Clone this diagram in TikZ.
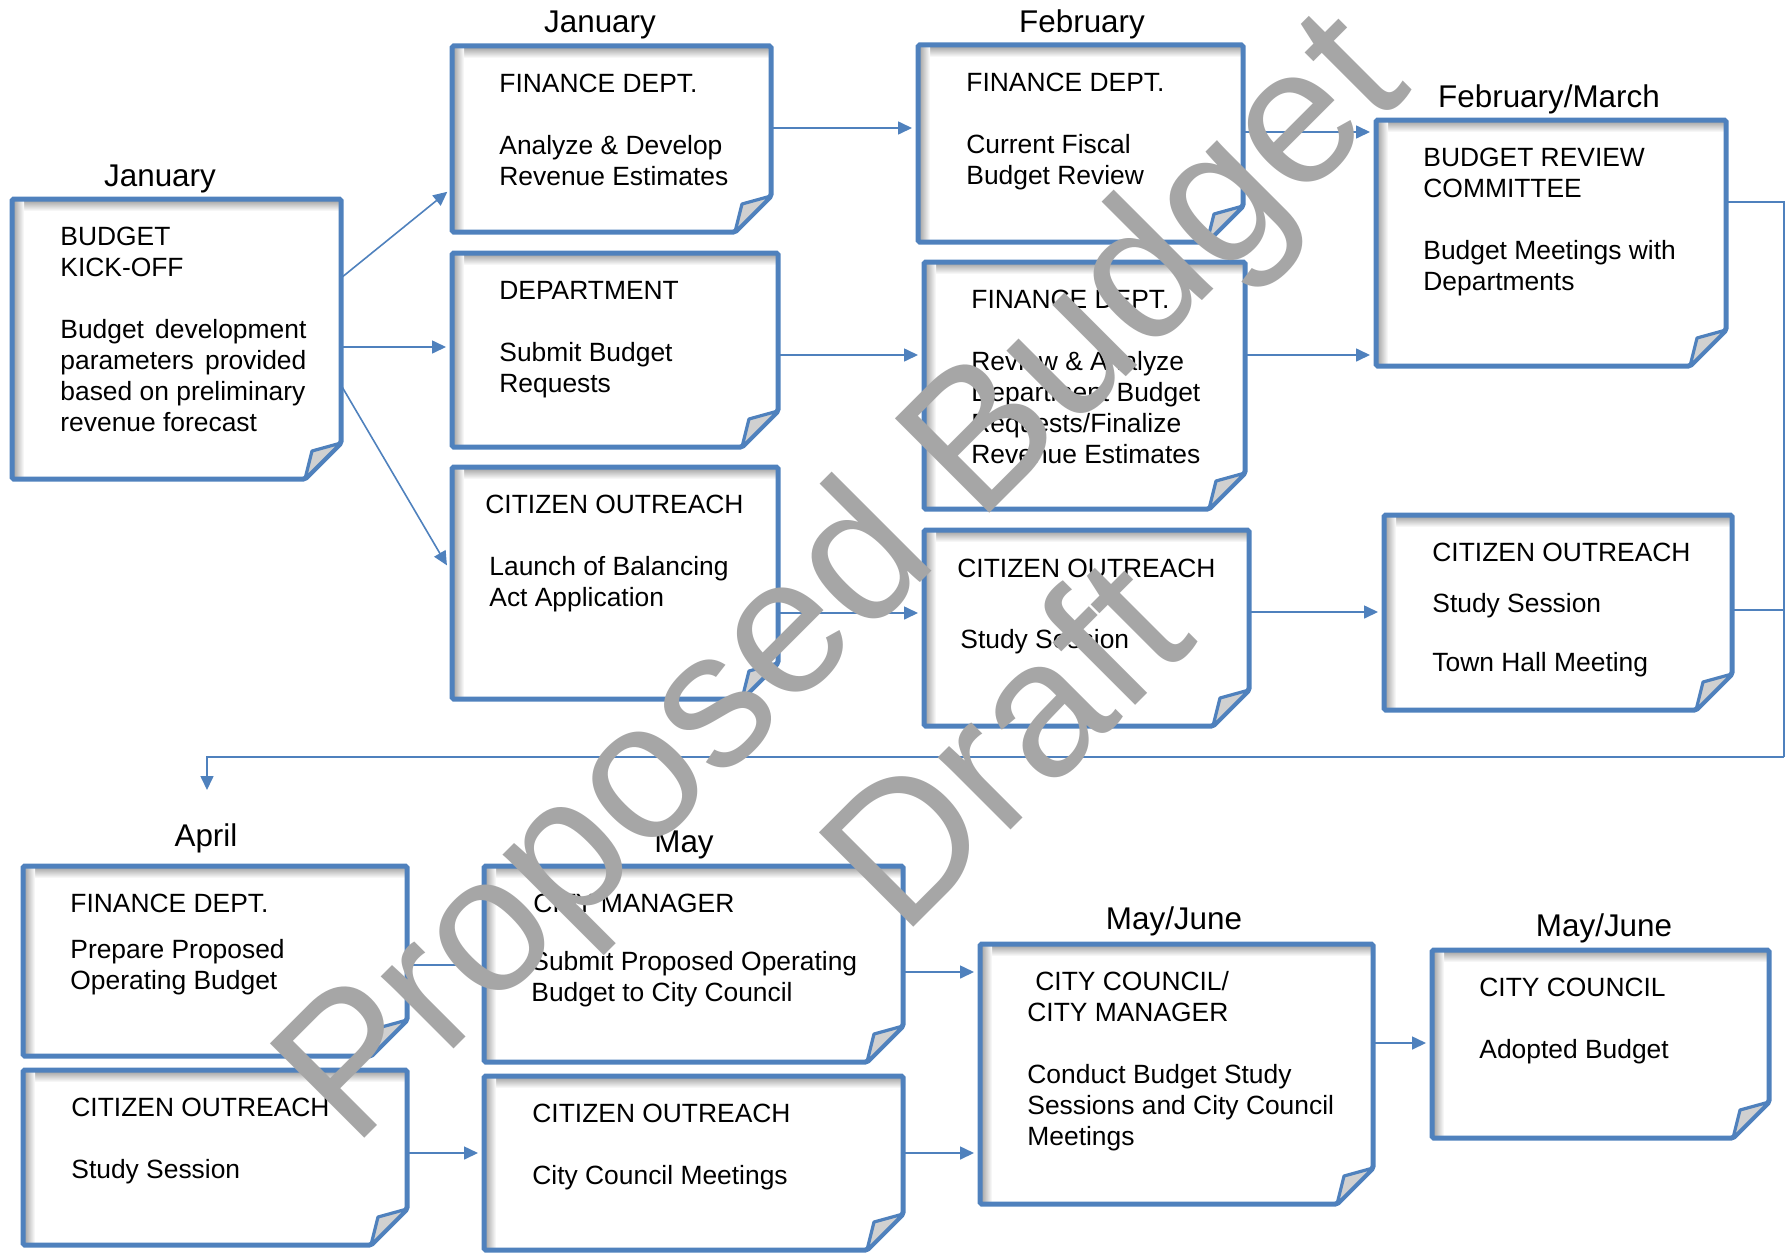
\documentclass[tikz,border=0pt]{standalone}
\usepackage{fontspec}
\setmainfont{Liberation Sans}
\usetikzlibrary{arrows.meta,fit,calc}
\definecolor{boxblue}{RGB}{79,129,189}
\definecolor{foldgray}{RGB}{208,208,208}
\definecolor{wmgray}{RGB}{166,166,166}
\newcommand*{\boxfont}{\fontsize{13.2}{15.5}\selectfont}
\newcommand*{\monthfont}{\fontsize{15.7}{19}\selectfont}
\newcommand*{\markfont}{\fontsize{97}{100}\selectfont}
\tikzset{%
  docslot/.style={inner sep=0pt, outer sep=0pt},% invisible node that names a box
  docframe/.style={draw=boxblue, line width=2.5pt, rounded corners=0.8pt},% box outline
  docfold/.style={draw=boxblue, line width=1.6pt, fill=foldgray, line join=round},% folded corner
  boxtext/.style={anchor=north west, inner sep=0pt, align=left, font=\boxfont},
  monthlabel/.style={anchor=base, inner sep=0pt, font=\monthfont},
  flow/.style={draw=boxblue, line width=0.8pt, shorten >=3pt,
    -{Triangle[length=7pt,width=6.5pt]}},% arrow between boxes
  link/.style={draw=boxblue, line width=0.8pt},% plain line
  watermark/.style={text=wmgray, font=\markfont, rotate=45, inner sep=0pt}
}
% box with inner shadow and folded lower right corner
\newcommand*{\docbox}[5]{%
  \node[docslot, fit={(#2,#3) (#4,#5)}] (#1) {};
  \fill[white] (#1.north west) -- (#1.north east) -- ([yshift=18pt]#1.south east)
    -- ([xshift=-18pt]#1.south east) -- (#1.south west) -- cycle;
  \shade[top color=black!40, bottom color=white] (#1.north west) rectangle ([yshift=-6pt]#1.north east);
  \shade[left color=black!40, right color=white] (#1.north west) rectangle ([xshift=6pt]#1.south west);
  \draw[docframe] (#1.north west) -- (#1.north east) -- ([yshift=18pt]#1.south east)
    -- ([xshift=-18pt]#1.south east) -- (#1.south west) -- cycle;
  \filldraw[docfold] ([yshift=18pt]#1.south east) -- ([shift={(-14.5pt,14pt)}]#1.south east)
    -- ([xshift=-18pt]#1.south east) -- cycle;
}

\begin{document}
\begin{tikzpicture}[x=0.5pt,y=-0.5pt]
\useasboundingbox (0,0) rectangle (1786,1252);

% boxes
\docbox{kick}{12}{199}{341}{479}
\docbox{jfin}{452}{46}{771}{232}
\docbox{dept}{452}{253}{778}{447}
\docbox{jcit}{452}{467}{778}{699}
\docbox{ffin}{918}{45}{1243}{242}
\docbox{frev}{924}{262}{1245}{509}
\docbox{fcit}{924}{530}{1249}{726}
\docbox{brc}{1376}{120}{1726}{366}
\docbox{mcit}{1384}{515}{1732}{710}
\docbox{apfin}{23}{866}{407}{1056}
\docbox{apcit}{23}{1070}{407}{1245}
\docbox{cmgr}{484}{866}{903}{1062}
\docbox{mcit2}{484}{1076}{903}{1250}
\docbox{council}{980}{944}{1373}{1204}
\docbox{adopted}{1432}{950}{1769}{1138}

% box texts
\node[boxtext] (kick-txt) at ([shift={(48,28)}]kick.north west)
  {BUDGET\\KICK-OFF\\[15.5pt]\makebox[123pt][s]{Budget development}\\
   \makebox[123pt][s]{parameters provided}\\based on preliminary\\revenue forecast};
\node[boxtext] (jfin-txt) at ([shift={(47,28)}]jfin.north west)
  {FINANCE DEPT.\\[15.5pt]Analyze \& Develop\\Revenue Estimates};
\node[boxtext] (dept-txt) at ([shift={(47,28)}]dept.north west)
  {DEPARTMENT\\[15.5pt]Submit Budget\\Requests};
\node[boxtext] (jcit-txt) at ([shift={(33,28)}]jcit.north west)
  {CITIZEN OUTREACH\\[15.5pt]\hspace*{2pt}Launch of Balancing\\\hspace*{2pt}Act Application};
\node[boxtext] (ffin-txt) at ([shift={(48,28)}]ffin.north west)
  {FINANCE DEPT.\\[15.5pt]Current Fiscal\\Budget Review};
\node[boxtext] (frev-txt) at ([shift={(47,28)}]frev.north west)
  {FINANCE DEPT.\\[15.5pt]Review \& Analyze\\Department Budget\\Requests/Finalize\\Revenue Estimates};
\node[boxtext] (fcit-txt) at ([shift={(33,29)}]fcit.north west)
  {CITIZEN OUTREACH\\[20pt]\hspace*{1.5pt}Study Session};
\node[boxtext] (brc-txt) at ([shift={(47,28)}]brc.north west)
  {BUDGET REVIEW\\COMMITTEE\\[15.5pt]Budget Meetings with\\Departments};
\node[boxtext] (mcit-txt) at ([shift={(48,28)}]mcit.north west)
  {CITIZEN OUTREACH\\[10pt]Study Session\\[14pt]Town Hall Meeting};
\node[boxtext] (apfin-txt) at ([shift={(47,28)}]apfin.north west)
  {FINANCE DEPT.\\[7.3pt]Prepare Proposed\\Operating Budget};
\node[boxtext] (apcit-txt) at ([shift={(48,28)}]apcit.north west)
  {CITIZEN OUTREACH\\[15.5pt]Study Session};
\node[boxtext] (cmgr-txt) at ([shift={(47,28)}]cmgr.north west)
  {\hspace*{1pt}CITY MANAGER\\[13.5pt]Submit Proposed Operating\\Budget to City Council};
\node[boxtext] (mcit2-txt) at ([shift={(48,28)}]mcit2.north west)
  {CITIZEN OUTREACH\\[15.5pt]City Council Meetings};
\node[boxtext] (council-txt) at ([shift={(47,27)}]council.north west)
  {\hspace*{4pt}CITY COUNCIL/\\CITY MANAGER\\[15.5pt]Conduct Budget Study\\Sessions and City Council\\Meetings};
\node[boxtext] (adopted-txt) at ([shift={(47,28)}]adopted.north west)
  {CITY COUNCIL\\[15.5pt]Adopted Budget};

% months
\node[monthlabel] (jan-a) at (160,186) {January};
\node[monthlabel] (jan-b) at (600,33) {January};
\node[monthlabel] (feb) at (1082,33) {February};
\node[monthlabel] (febmar) at (1549,107) {February/March};
\node[monthlabel] (apr) at (206,846) {April};
\node[monthlabel] (may) at (684,852) {May};
\node[monthlabel] (mayjun-a) at (1174,929) {May/June};
\node[monthlabel] (mayjun-b) at (1604,936) {May/June};

% connectors
\draw[flow] (kick.east |- 0,278) -- (jfin.west |- 0,188);
\draw[flow] (kick.east |- 0,347) -- (dept.west |- 0,347);
\draw[flow, shorten >=5pt] (kick.east |- 0,385) -- (jcit.west |- 0,574);
\draw[flow] (jfin.east |- 0,128) -- (ffin.west |- 0,128);
\draw[flow] (dept.east |- 0,355) -- (frev.west |- 0,355);
\draw[flow] (jcit.east |- 0,613) -- (fcit.west |- 0,613);
\draw[flow] (ffin.east |- 0,132) -- (brc.west |- 0,132);
\draw[flow] (frev.east |- 0,355) -- (brc.west |- 0,355);
\draw[flow] (fcit.east |- 0,612) -- (mcit.west |- 0,612);

\coordinate (turn) at (1784,757);
\coordinate (drop) at (207,790);
\draw[link] (brc.east |- 0,202) -- (turn |- 0,202) -- (turn);
\draw[link] (mcit.east |- 0,610) -- (turn |- 0,610);
\draw[flow, shorten >=0pt] (turn) -- (drop |- turn) -- (drop);

\draw[flow] (apfin.east |- 0,965) -- (cmgr.west |- 0,965);
\draw[flow] (apcit.east |- 0,1153) -- (mcit2.west |- 0,1153);
\draw[flow] (cmgr.east |- 0,972) -- (council.west |- 0,972);
\draw[flow] (mcit2.east |- 0,1153) -- (council.west |- 0,1153);
\draw[flow] (council.east |- 0,1043) -- (adopted.west |- 0,1043);

% watermark
\node[watermark] (proposed) at (848,584) {Proposed Budget};
\node[watermark] (draft) at (1002,741) {Draft};
\end{tikzpicture}
\end{document}
